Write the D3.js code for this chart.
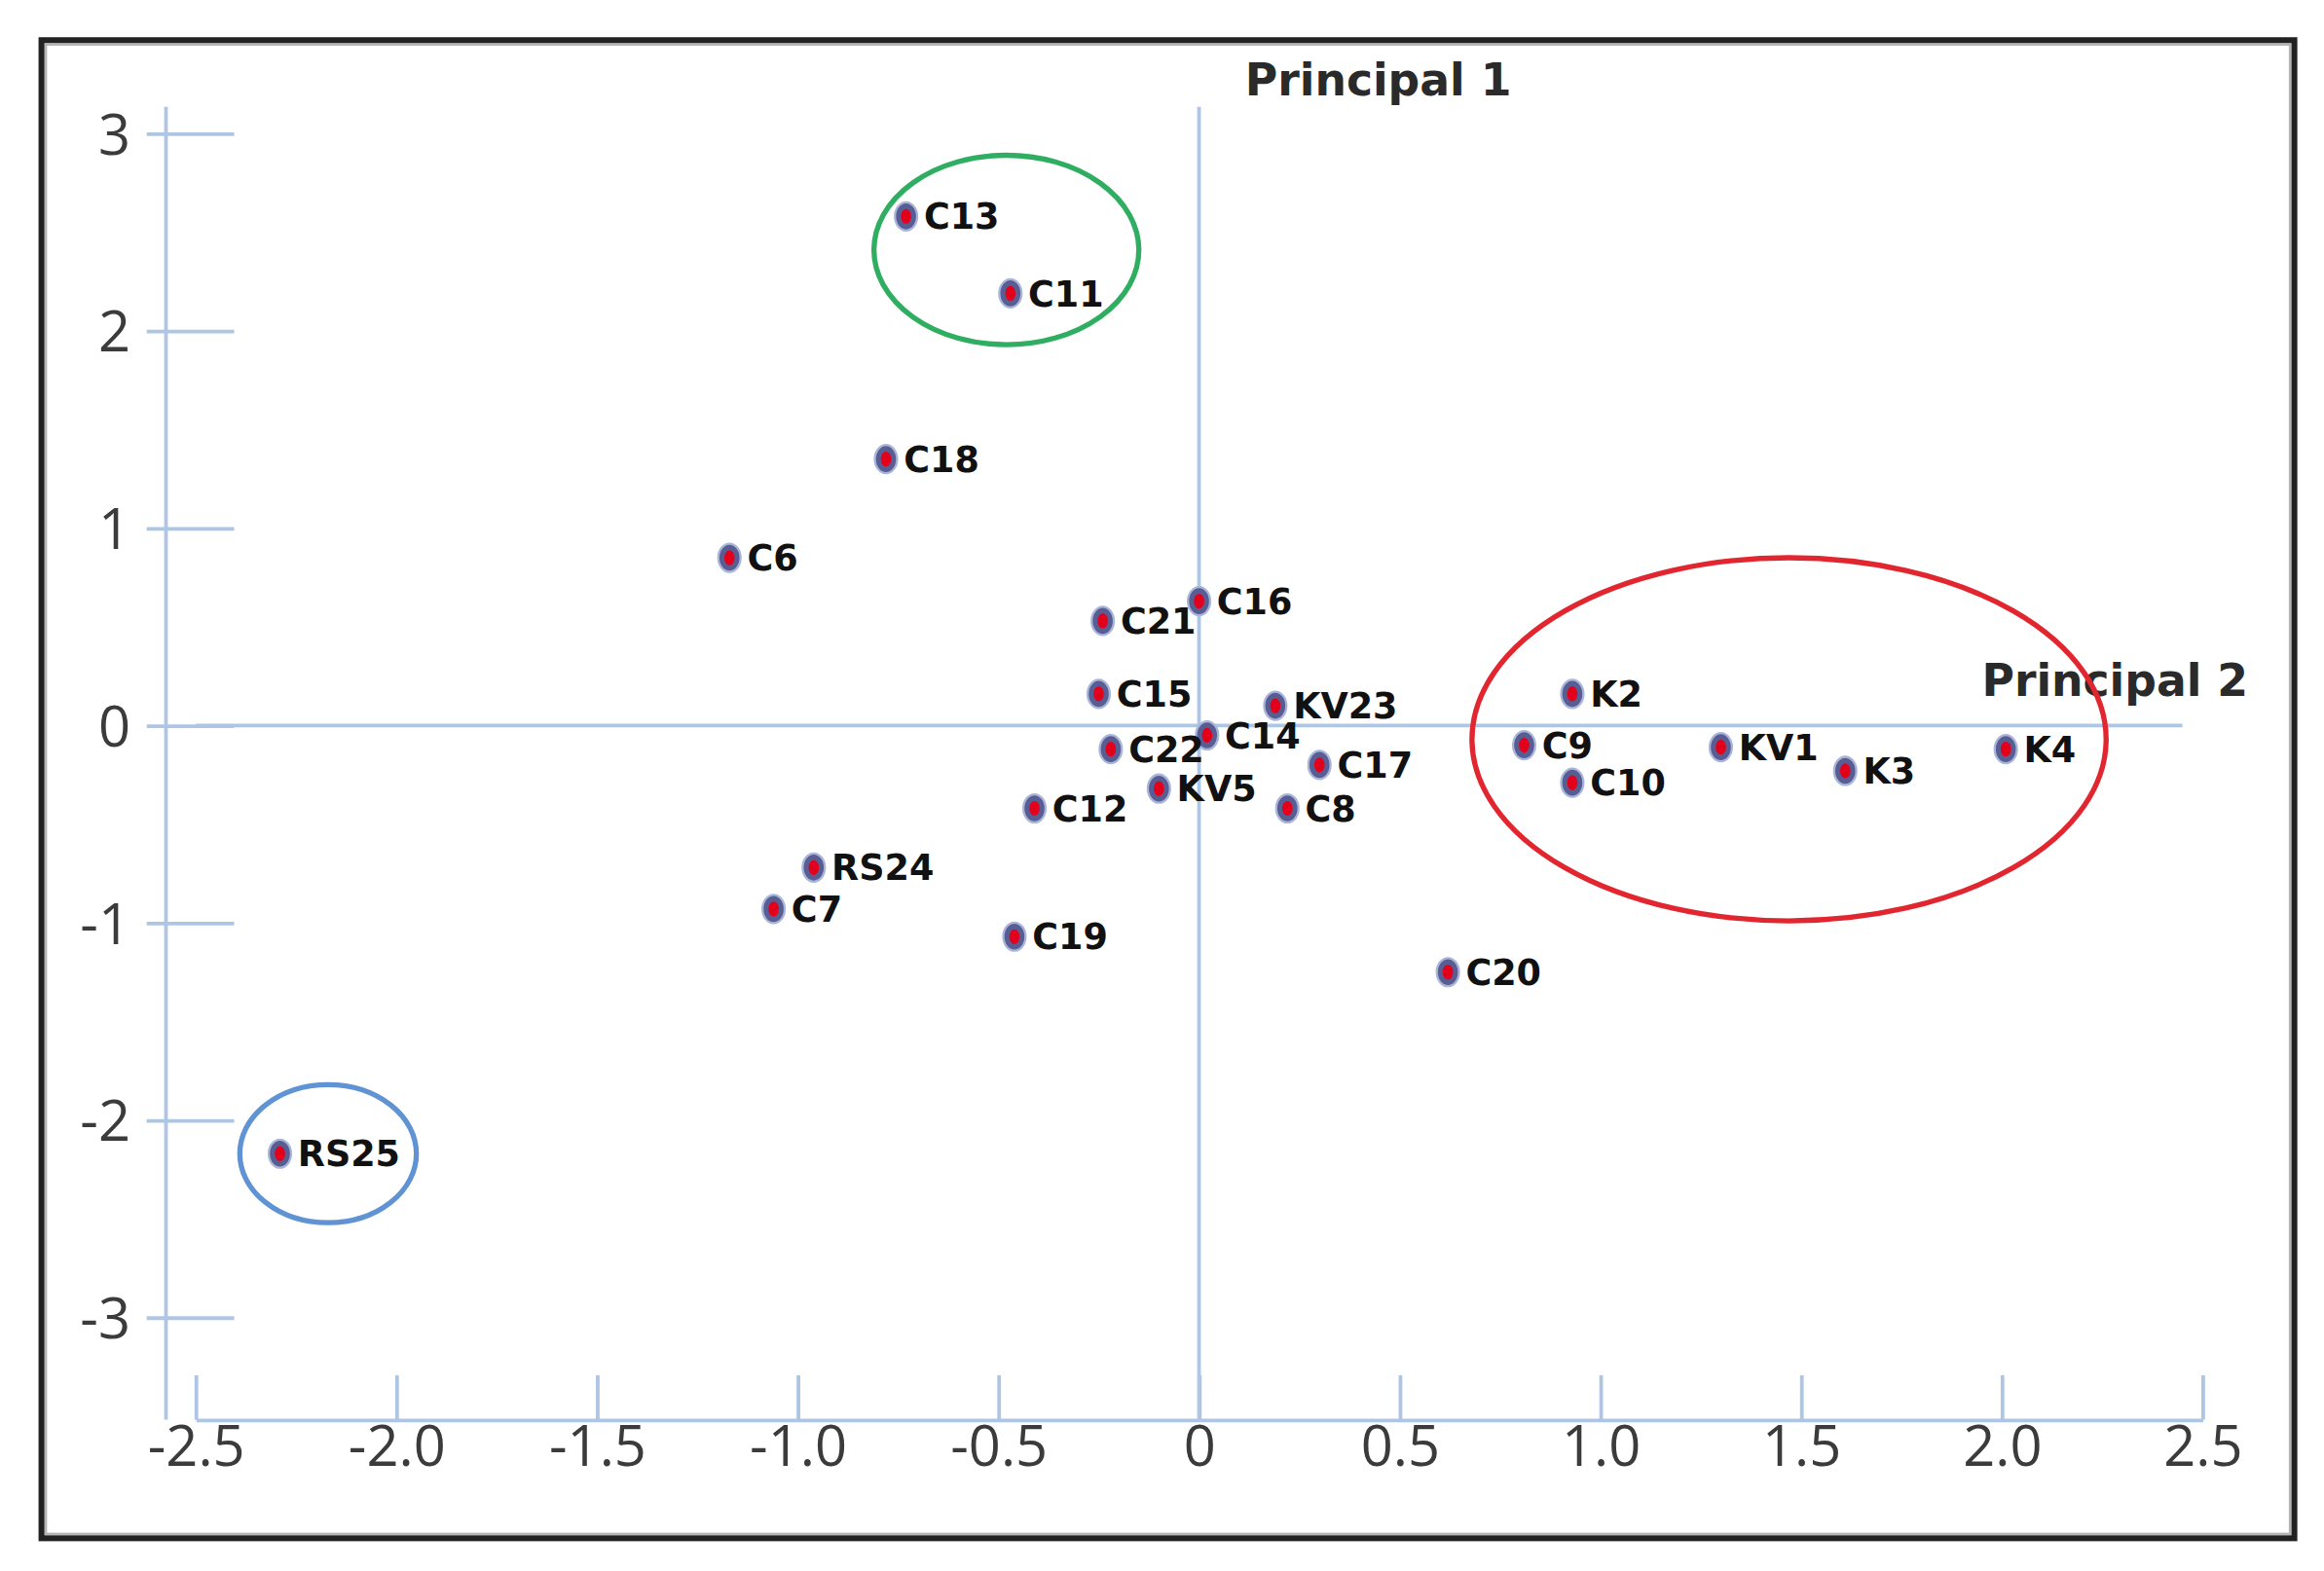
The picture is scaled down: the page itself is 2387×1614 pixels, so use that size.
<!DOCTYPE html>
<meta charset="utf-8">
<head>
  <title>Principal component scores</title>
</head>

<style>
body { margin: 0; background: #fff; }
.lbl { font-family: "DejaVu Sans", sans-serif; font-weight: bold; font-size: 24px; fill: #111; }
.tick text { font-family: "Open Sans", sans-serif; font-size: 38px; fill: #3b3b3b; }
.tick line, .domain, .guide { stroke: #afc5e4; stroke-width: 2.5; fill: none; }
.pc { font-family: "DejaVu Sans", sans-serif; font-weight: bold; font-size: 30px; fill: #2a2a2a; }
</style>

<body>
  <svg id="chart" width="2387" height="1614" viewBox="0 0 1568 1060"></svg>

  <script src="https://cdn.jsdelivr.net/npm/d3@7"></script>

  <script>
var labels = ['C13', 'C11', 'C18', 'C6', 'C16', 'C21', 'C15', 'KV23', 'C14', 'C22', 'C17', 'KV5', 'C12',
  'C8', 'RS24', 'C7', 'C19', 'C20', 'RS25', 'K2', 'C9', 'C10', 'KV1', 'K3', 'K4'];
// horizontal = principal 2, vertical = principal 1
var pc2 = [-0.73, -0.47, -0.78, -1.17, 0.0, -0.24, -0.25, 0.19, 0.02, -0.22, 0.30, -0.10, -0.41,
  0.22, -0.96, -1.06, -0.46, 0.62, -2.29, 0.93, 0.81, 0.93, 1.30, 1.61, 2.01];
var pc1 = [2.58, 2.19, 1.35, 0.85, 0.63, 0.53, 0.16, 0.10, -0.05, -0.12, -0.20, -0.32, -0.42,
  -0.42, -0.72, -0.93, -1.07, -1.25, -2.17, 0.16, -0.10, -0.29, -0.11, -0.23, -0.12];

var xTicks = [-2.5, -2, -1.5, -1, -0.5, 0, 0.5, 1, 1.5, 2, 2.5];
var yTicks = [-3, -2, -1, 0, 1, 2, 3];

// circled groups (data units)
var groupX = [-0.48, 1.47, -2.17];
var groupY = [2.41, -0.07, -2.17];
var groupRx = [0.33, 0.79, 0.22];
var groupRy = [0.48, 0.92, 0.35];
var groupColors = ['#2fae62', '#e2262f', '#5f93d3'];

var svg = d3.select('#chart');

var x = d3.scaleLinear().domain([-2.5, 2.5]).range([132, 1486]);
var y = d3.scaleLinear().domain([-3, 3]).range([889, 90]);

var axisX = 112, axisY = 958, axisTop = 72;

// frame
svg.append('rect')
  .attr('x', 31).attr('y', 30).attr('width', 1514).attr('height', 1005)
  .attr('fill', 'none').attr('stroke', '#b4b4b4').attr('stroke-width', 1.5);
svg.append('rect')
  .attr('x', 28).attr('y', 27).attr('width', 1520).attr('height', 1011)
  .attr('fill', 'none').attr('stroke', '#222').attr('stroke-width', 4);

// left axis
svg.append('line').attr('class', 'guide')
  .attr('x1', axisX).attr('x2', axisX).attr('y1', axisTop).attr('y2', axisY);

var gy = svg.append('g')
  .attr('transform', 'translate(' + axisX + ',0)')
  .call(d3.axisLeft(y).tickValues(yTicks).tickSize(-46).tickPadding(24)
    .tickFormat(function(d) { return String(d); }));
gy.select('.domain').remove();
gy.selectAll('.tick line').attr('x1', -13);
gy.selectAll('.tick text').attr('dy', '0.36em');

// bottom axis
var gx = svg.append('g')
  .attr('transform', 'translate(0,' + axisY + ')')
  .call(d3.axisBottom(x).tickValues(xTicks).tickSize(-30).tickSizeOuter(0).tickPadding(4)
    .tickFormat(function(d) { return d === 0 ? '0' : d.toFixed(1); }));

// zero lines
svg.append('line').attr('class', 'guide')
  .attr('x1', x(0)).attr('x2', x(0)).attr('y1', axisTop).attr('y2', axisY);
svg.append('line').attr('class', 'guide')
  .attr('x1', x(-2.5)).attr('x2', x(2.45)).attr('y1', y(0)).attr('y2', y(0));

svg.append('text').attr('class', 'pc')
  .attr('x', x(0) + 31).attr('y', 64)
  .text('Principal 1');
svg.append('text').attr('class', 'pc')
  .attr('x', x(1.95)).attr('y', y(0) - 20)
  .text('Principal 2');

// points
var pts = labels.map(function(d, i) {
  return { name: d, px: pc2[i], py: pc1[i] };
});

var g = svg.append('g');
var node = g.selectAll('g.pt')
  .data(pts)
  .enter()
  .append('g')
  .attr('class', 'pt')
  .attr('transform', function(d) {
    return 'translate(' + x(d.px) + ',' + y(d.py) + ')';
  });

node.append('ellipse')
  .attr('rx', 7.5).attr('ry', 9.5)
  .attr('fill', '#585e94')
  .attr('stroke', '#a9b6d8').attr('stroke-width', 1.5);
node.append('ellipse')
  .attr('rx', 3.5).attr('ry', 5)
  .attr('fill', '#e3001b');
node.append('text')
  .attr('class', 'lbl')
  .attr('x', 12)
  .attr('dy', '0.36em')
  .text(function(d) { return d.name; });

// group rings
svg.selectAll('ellipse.ring')
  .data(groupX)
  .enter()
  .append('ellipse')
  .attr('class', 'ring')
  .attr('cx', function(d) { return x(d); })
  .attr('cy', function(d, i) { return y(groupY[i]); })
  .attr('rx', function(d, i) { return x(groupRx[i]) - x(0); })
  .attr('ry', function(d, i) { return y(0) - y(groupRy[i]); })
  .attr('fill', 'none')
  .attr('stroke', function(d, i) { return groupColors[i]; })
  .attr('stroke-width', 3.5);
  </script>
</body>
</html>
